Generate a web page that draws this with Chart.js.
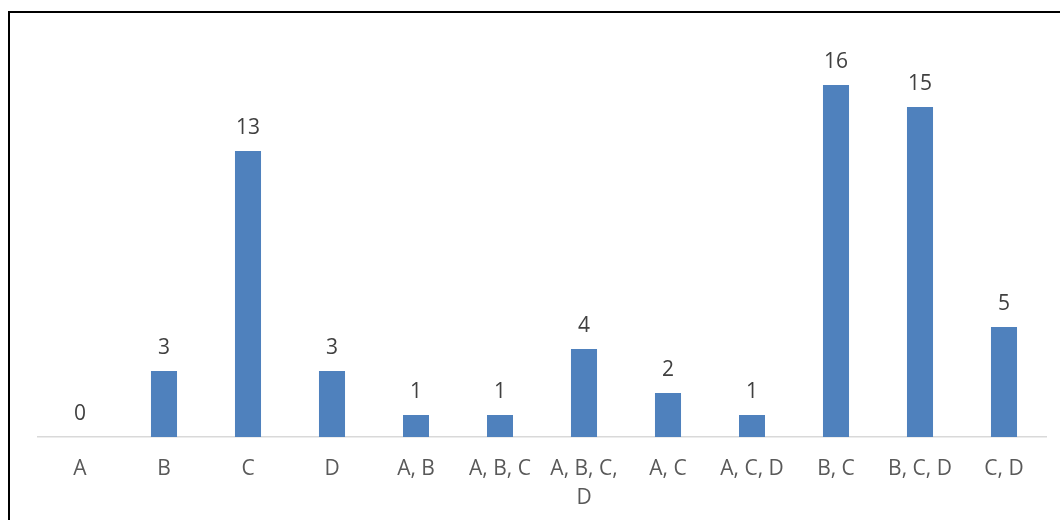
<!DOCTYPE html>
<html>
<head>
<meta charset="utf-8">
<script src="https://cdn.jsdelivr.net/npm/chart.js@4"></script>
<style>
  html, body { margin: 0; padding: 0; background: #ffffff; overflow: hidden; }
  #wrap { position: relative; width: 1060px; height: 520px; }
  #frame {
    position: absolute; left: 8px; top: 11px; width: 1100px; height: 560px;
    border-left: 2px solid #000; border-top: 2px solid #000; box-sizing: border-box;
  }
  canvas { position: absolute; left: 0; top: 0; }
</style>
</head>
<body>
<div id="wrap">
  <div id="frame"></div>
  <canvas id="chart" width="1060" height="520"></canvas>
</div>
<script>
// Category names (one label is split over two lines, as it wraps under its bar)
const categories = ['A', 'B', 'C', 'D', 'A, B', 'A, B, C', ['A, B, C,', 'D'], 'A, C', 'A, C, D', 'B, C', 'B, C, D', 'C, D'];
// Count for each category
const counts = [0, 3, 13, 3, 1, 1, 4, 2, 1, 16, 15, 5];

const FONT = '"Open Sans", "Liberation Sans", sans-serif';

// Writes each bar's value just above it
const valueLabels = {
  id: 'valueLabels',
  afterDatasetsDraw(chart) {
    const ctx = chart.ctx;
    const meta = chart.getDatasetMeta(0);
    ctx.save();
    ctx.font = '21px ' + FONT;
    ctx.fillStyle = '#404040';
    ctx.textAlign = 'center';
    ctx.textBaseline = 'middle';
    meta.data.forEach((bar, i) => {
      ctx.fillText(String(counts[i]), bar.x, bar.y - 23);
    });
    ctx.restore();
  }
};

new Chart(document.getElementById('chart'), {
  type: 'bar',
  data: {
    labels: categories,
    datasets: [{
      data: counts,
      backgroundColor: '#4f81bd',
      borderWidth: 0,
      barPercentage: 0.31,
      categoryPercentage: 1
    }]
  },
  options: {
    responsive: false,
    animation: false,
    devicePixelRatio: 1,
    layout: { padding: { left: 38, right: 14, top: 41, bottom: 0 } },
    plugins: { legend: { display: false }, tooltip: { enabled: false } },
    scales: {
      x: {
        grid: { display: false, drawTicks: false },
        border: { display: true, color: '#d9d9d9', width: 1.5 },
        ticks: {
          color: '#595959',
          font: { family: FONT, size: 21, lineHeight: 1.38 },
          padding: 18,
          maxRotation: 0,
          autoSkip: false
        },
        afterFit(scale) { scale.height = 83; }
      },
      y: {
        display: false,
        min: 0,
        max: 18
      }
    }
  },
  plugins: [valueLabels]
});
</script>
</body>
</html>
